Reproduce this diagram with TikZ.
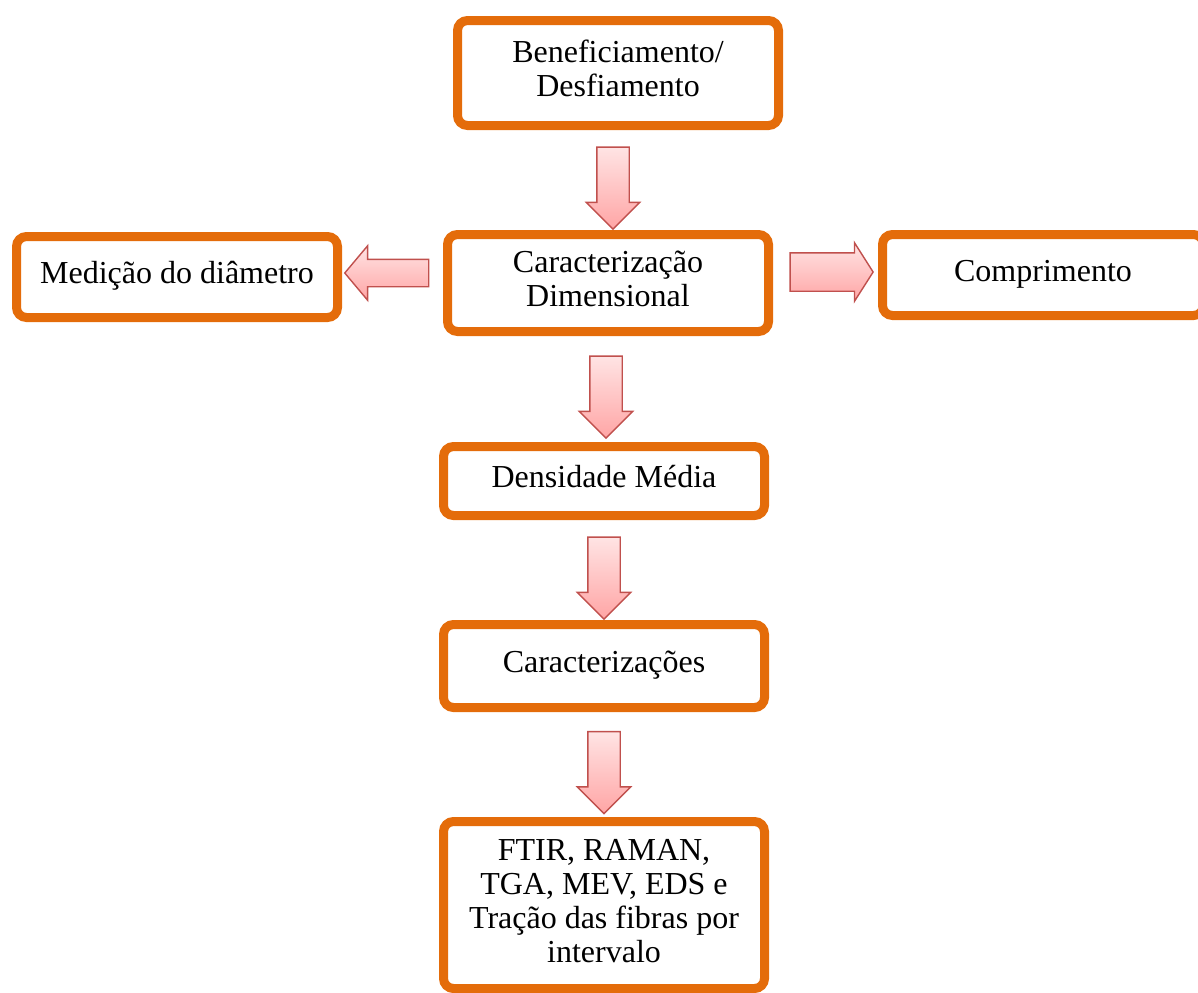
\documentclass[tikz,border=0pt]{standalone}
\usepackage{fontspec}
\setmainfont{Liberation Serif}
\usetikzlibrary{calc,positioning,shapes.arrows,shadows}

\definecolor{laranja}{HTML}{E46C0A}
\definecolor{setaborda}{HTML}{C0504D}
\definecolor{setaclara}{HTML}{FFE4E4}
\definecolor{setaescura}{HTML}{FFA5A5}

\tikzset{
  etapa/.style={draw=laranja,line width=4.5pt,rounded corners=5pt,fill=white,
    align=center,minimum width=160.5pt,inner sep=2pt,text depth=4.5pt,
    font=\fontsize{16}{17}\selectfont,
    drop shadow={shadow xshift=1pt,shadow yshift=-1.2pt,opacity=0.25}},
  seta/.style={single arrow,draw=setaborda,line width=0.7pt,
    inner sep=7.75pt,minimum width=0pt,minimum height=41pt,
    single arrow head extend=5.25pt,
    top color=setaclara,bottom color=setaescura},
}

\begin{document}
\begin{tikzpicture}[x=0.5pt,y=-0.5pt]
  \useasboundingbox (0,0) rectangle (1198,992);
  % etapas
  \node[etapa,minimum height=52.5pt] (benef) at (618,73)
    {Beneficiamento/\\Desfiamento};
  \node[etapa,minimum height=48.5pt] (dimens) at (608,283)
    {Caracterização\\Dimensional};
  \node[etapa,minimum height=40.5pt] (medicao) at (177,277)
    {Medição do diâmetro};
  \node[etapa,minimum height=40.5pt] (compr) at (1043,275)
    {Comprimento};
  \node[etapa,minimum height=34.5pt] (densid) at (604,481)
    {Densidade Média};
  \node[etapa,minimum height=41.5pt] (caract) at (604,666)
    {Caracterizações};
  \node[etapa,minimum height=83.5pt] (ensaios) at (604,905)
    {FTIR, RAMAN,\\TGA, MEV, EDS e\\Tração das fibras por\\intervalo};
  % setas
  \node[seta,shape border rotate=270] (s1)
    at ($(benef.south)!0.5!(dimens.north)$) {};
  \node[seta,shape border rotate=270] (s2)
    at ($(dimens.south)!0.5!(densid.north)$) {};
  \node[seta,shape border rotate=270] (s3)
    at ($(densid.south)!0.5!(caract.north)$) {};
  \node[seta,shape border rotate=270] (s4)
    at ($(caract.south)!0.5!(ensaios.north)$) {};
  \node[seta,shape border rotate=180,minimum height=42pt,inner sep=6.5pt,
    single arrow head extend=6.75pt,single arrow tip angle=100,yshift=3.5pt] (s5)
    at ($(medicao.east)!0.5!(dimens.west)$) {};
  \node[seta,minimum height=41.5pt,inner sep=9.25pt,
    single arrow head extend=5pt,single arrow tip angle=115,yshift=3.5pt] (s6)
    at ($(dimens.east)!0.5!(compr.west)$) {};
\end{tikzpicture}
\end{document}
